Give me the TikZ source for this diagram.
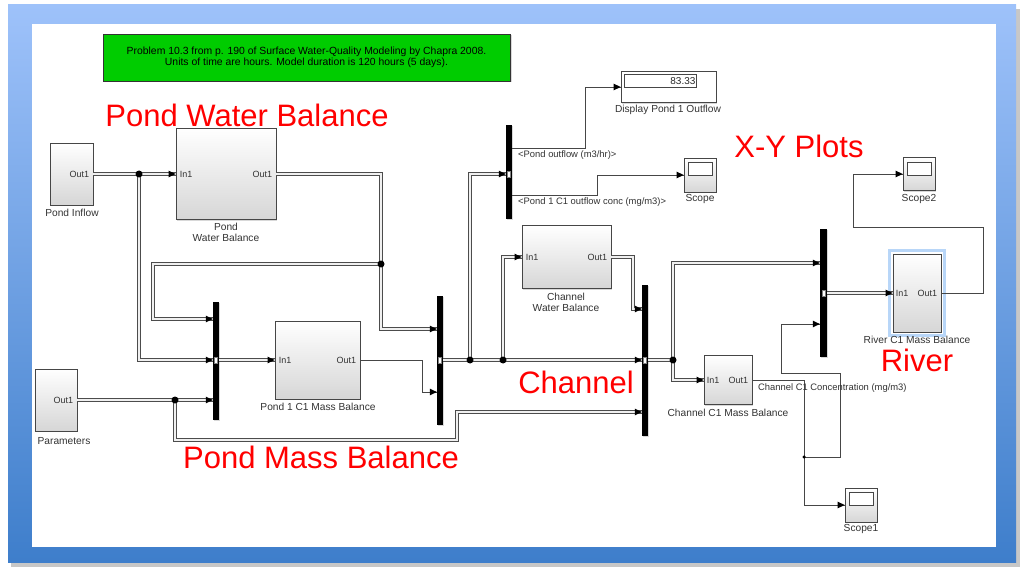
\documentclass[tikz,border=0pt]{standalone}
\usepackage{fontspec}
\setmainfont{Liberation Sans}
\usetikzlibrary{shadows,decorations.markings,calc}
\definecolor{frameTop}{RGB}{158,194,250}
\definecolor{frameBot}{RGB}{62,126,203}
\definecolor{simgreen}{RGB}{0,204,0}
\definecolor{wire}{RGB}{70,70,70}
\definecolor{selblue}{RGB}{184,214,248}
\begin{document}
\begin{tikzpicture}[x=1pt,y=-1pt,
  blk/.style={draw=wire, line width=0.8pt, top color=white, bottom color=black!16, inner sep=0pt,
    drop shadow={opacity=0.3,shadow xshift=1.2pt,shadow yshift=-1.2pt}},
  mux/.style={fill=black, draw=none, minimum width=6pt, inner sep=0pt,
    drop shadow={opacity=0.3,shadow xshift=1.2pt,shadow yshift=-1.2pt}},
  pmark/.style={draw=gray, fill=white, line width=0.3pt, minimum width=3pt, minimum height=6pt, inner sep=0pt},
  bus/.style={draw=black!70, line width=1.1pt, double=black!6, double distance=1.7pt, line join=miter},
  sig/.style={draw=wire, line width=0.7pt},
  arr/.style={postaction={decorate,decoration={markings,mark=at position 1 with {\fill[black] (0pt,0pt) -- (-7pt,3.4pt) -- (-7pt,-3.4pt) -- cycle;}}}},
  jdot/.style={circle, fill=black, inner sep=0pt, minimum size=7pt},
  sdot/.style={circle, fill=black, inner sep=0pt, minimum size=3.5pt},
  port/.style={font=\fontsize{9}{10}\selectfont, text=black!80, inner sep=0pt},
  lab/.style={text=black!80, align=center, inner sep=0pt, font=\fontsize{10.2}{11}\selectfont},
  slab/.style={text=black!80, inner sep=0pt, anchor=west, font=\fontsize{9.4}{10}\selectfont},
  rlab/.style={text=red, font=\fontsize{31}{31}\selectfont, inner sep=0pt, anchor=base},
  scr/.style={draw=wire, fill=white, line width=0.6pt}
]
\useasboundingbox (0,0) rectangle (1024,572);
% frame
\fill[black!22] (11,9) rectangle (1020,567);
\shade[top color=frameTop, bottom color=frameBot] (8,5) rectangle (1016,562);
\fill[white] (32,24) rectangle (996,547);

% note
\node[draw=black!80, line width=0.8pt, fill=simgreen, minimum width=407pt, minimum height=47pt,
  align=center, inner sep=0pt, font=\fontsize{10.4}{10.6}\selectfont,
  drop shadow={opacity=0.3,shadow xshift=1.5pt,shadow yshift=-1.5pt}] (note) at (306.5,57.5)
  {Problem 10.3 from p. 190 of Surface Water-Quality Modeling by Chapra 2008.\\Units of time are hours. Model duration is 120 hours (5 days).};

% blocks
\node[blk,minimum width=43pt,minimum height=62pt] (pin) at (71.5,174) {};
\node[blk,minimum width=100pt,minimum height=91pt] (pwb) at (226,174) {};
\node[blk,minimum width=42pt,minimum height=62pt] (par) at (56,400) {};
\node[blk,minimum width=85pt,minimum height=78pt] (pmb) at (317.5,360) {};
\node[blk,minimum width=89pt,minimum height=63pt] (cwb) at (566.5,257) {};
\node[blk,minimum width=48pt,minimum height=49pt] (ccmb) at (728,380) {};
\node[draw=selblue, line width=3pt, minimum width=55pt, minimum height=85pt, inner sep=0pt] (sel) at (917,293) {};
\node[blk,minimum width=48pt,minimum height=78pt] (rmb) at (917,293) {};
\node[blk,bottom color=white,minimum width=95pt,minimum height=31pt] (disp) at (668.5,87) {};
\node[scr, minimum width=72pt, minimum height=13pt, inner sep=0pt, anchor=north west] (dval) at (624,74) {};
\node[anchor=east, inner sep=1pt, font=\fontsize{10}{10}\selectfont, text=black!85] at (dval.east) {83.33};
\node[blk,minimum width=32pt,minimum height=34pt] (sc) at (700,175) {};
\node[blk,minimum width=32pt,minimum height=33pt] (sc2) at (919,174) {};
\node[blk,minimum width=32pt,minimum height=34pt] (sc1) at (861,505) {};
\foreach \s in {sc,sc2,sc1}{
  \draw[scr] ($(\s.north west)+(5,5)$) rectangle ($(\s.north east)+(-4,18)$);
}

% muxes
\node[mux,minimum height=118pt] (m1) at (216,361) {};
\node[mux,minimum height=129pt] (m2) at (440,360.5) {};
\node[mux,minimum height=151pt] (m3) at (645,360.5) {};
\node[mux,minimum height=94pt] (m4) at (509,172) {};
\node[mux,minimum height=128pt,minimum width=7pt] (m5) at (823.5,293) {};

% ports
\node[port,anchor=east,xshift=-4pt] at (pin.east) {Out1};
\node[port,anchor=west,xshift=4pt] at (pwb.west) {In1};
\node[port,anchor=east,xshift=-4pt] at (pwb.east) {Out1};
\node[port,anchor=east,xshift=-4pt] at (par.east) {Out1};
\node[port,anchor=west,xshift=4pt] at (pmb.west) {In1};
\node[port,anchor=east,xshift=-4pt] at (pmb.east) {Out1};
\node[port,anchor=west,xshift=4pt] at (cwb.west) {In1};
\node[port,anchor=east,xshift=-4pt] at (cwb.east) {Out1};
\node[port,anchor=west,xshift=3pt] at (ccmb.west) {In1};
\node[port,anchor=east,xshift=-4pt] at (ccmb.east) {Out1};
\node[port,anchor=west,xshift=3pt] at (rmb.west) {In1};
\node[port,anchor=east,xshift=-4pt] at (rmb.east) {Out1};

% block labels
\node[lab] at (72,213) {Pond Inflow};
\node[lab] at (226,232.5) {Pond\\Water Balance};
\node[lab] at (64,441) {Parameters};
\node[lab] at (318,407) {Pond 1 C1 Mass Balance};
\node[lab] at (566,302) {Channel\\Water Balance};
\node[lab] at (728,413) {Channel C1 Mass Balance};
\node[lab] at (917,340) {River C1 Mass Balance};
\node[lab] at (668,110) {Display Pond 1 Outflow};
\node[lab] at (700,199) {Scope};
\node[lab] at (919,199) {Scope2};
\node[lab] at (861,529) {Scope1};

% connectors
\coordinate (j1) at (139,174);
\coordinate (j2) at (381,264);
\coordinate (j3) at (175,400);
\coordinate (j4) at (470,360);
\coordinate (j5) at (503,360);
\coordinate (j6) at (673,360);
\coordinate (j7) at (804,457);

\draw[bus,arr] (pin.east) -- (pwb.west);
\draw[bus,arr] (j1) |- (m1.west |- 0,360);
\draw[bus,arr] (pwb.east) -| (j2) |- (m2.west |- 0,329);
\draw[bus,arr] (j2) -| (153,319) -- (m1.west |- 0,319);
\draw[bus,arr] (par.east) -- (m1.west |- 0,400);
\draw[bus,arr] (j3) |- (457,440) |- (m3.west |- 0,412);
\draw[bus,arr] (m1.east |- 0,360) -- (pmb.west);
\draw[sig,arr] (pmb.east) -| (422,392) -- (m2.west |- 0,392);
\draw[bus,arr] (m2.east |- 0,360) -- (m3.west |- 0,360);
\draw[bus,arr] (j4) |- (m4.west |- 0,174);
\draw[bus,arr] (j5) |- (cwb.west);
\draw[bus,arr] (cwb.east) -| (633,309) -- (m3.west |- 0,309);
\draw[bus] (m3.east |- 0,360) -- (j6);
\draw[bus,arr] (j6) |- (m5.west |- 0,263);
\draw[bus,arr] (j6) |- (ccmb.west);
\draw[sig,arr] (ccmb.east) -| (j7) |- (sc1.west);
\draw[sig,arr] (j7) -| (840,373) -| (781,324) -- (m5.west |- 0,324);
\draw[bus,arr] (m5.east |- 0,293) -- (rmb.west);
\draw[sig,arr] (rmb.east) -| (983,227) -| (853,174) -- (sc2.west);
\draw[sig,arr] (m4.east |- 0,148) -| (585,87) -- (disp.west);
\draw[sig,arr] (m4.east |- 0,195) -| (597,175) -- (sc.west);

% junction dots
\foreach \j in {j1,j2,j3,j4,j5,j6}{ \node[jdot] at (\j) {}; }
\node[sdot] at (j7) {};

% mux port marks
\node[pmark] at (m1.center |- 0,360) {};
\node[pmark] at (m2.center |- 0,360) {};
\node[pmark] at (m3.center |- 0,360) {};
\node[pmark] at (m4.center |- 0,174) {};
\node[pmark] at (m5.center |- 0,293) {};

% signal labels
\node[slab] at (518,155) {<Pond outflow (m3/hr)>};
\node[slab] at (518,202) {<Pond 1 C1 outflow conc (mg/m3)>};
\node[slab] at (758,388) {Channel C1 Concentration (mg/m3)};

% red annotations
\node[rlab] at (247,127) {Pond Water Balance};
\node[rlab] at (799,158) {X-Y Plots};
\node[rlab] at (576,393) {Channel};
\node[rlab] at (917,371) {River};
\node[rlab] at (321,468) {Pond Mass Balance};
\end{tikzpicture}
\end{document}
